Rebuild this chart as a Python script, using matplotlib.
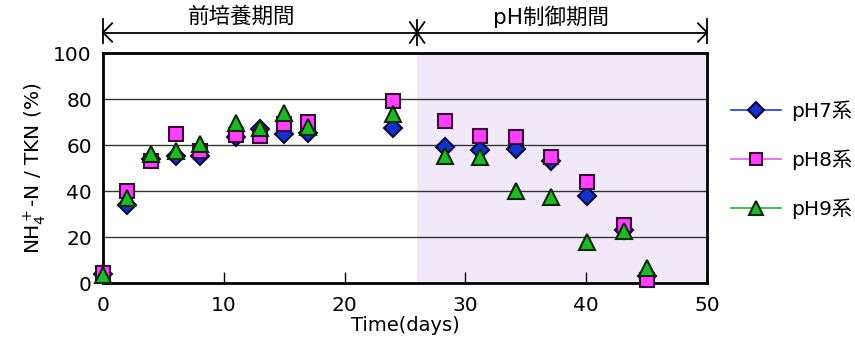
import matplotlib
matplotlib.use("Agg")
import matplotlib.pyplot as plt
import matplotlib.transforms as mtransforms

plt.rcParams['font.family'] = ['DejaVu Sans', 'Noto Sans CJK JP']
plt.rcParams['mathtext.fontset'] = 'dejavusans'

days = [0, 2, 4, 6, 8, 11, 13, 15, 17, 24, 28.3, 31.2, 34.2, 37.1, 40.1, 43.1, 45]
ph7 = [4, 34, 54, 55.5, 55.5, 63.5, 67, 65, 65.5, 67.5, 59, 58, 58.5, 53, 38, 23, 3]
ph8 = [4.5, 40, 53, 65, 57.5, 64.5, 64, 69, 70, 79, 70.5, 64, 63.5, 55, 44, 25.5, 1.2]
ph9 = [3.5, 37, 56, 57.5, 60.5, 69.5, 67.5, 74, 68, 73.5, 55.5, 55, 40, 37.5, 18, 22.5, 6.5]
series_labels = ['pH7系', 'pH8系', 'pH9系']

phase_bounds = [0, 26, 50]
phase_labels = ['前培養期間', 'pH制御期間']

xticks = [0, 10, 20, 30, 40, 50]
yticks = [0, 20, 40, 60, 80, 100]

fig = plt.figure(figsize=(8.55, 3.5), dpi=100)
ax = fig.add_axes([0.1205, 0.191, 0.7065, 0.657])

ax.axvspan(phase_bounds[1], phase_bounds[2], color='#f1e8f8', zorder=0, lw=0)
for y in yticks[1:-1]:
    ax.axhline(y, color='#333333', lw=1.0, zorder=1)

styles = [
    dict(marker='D', mfc='#1432c8', mec='#0a0a3a', color='#2040d0', ms=9.5),
    dict(marker='s', mfc='#ff40ff', mec='#3a0a3a', color='#e060e0', ms=10),
    dict(marker='^', mfc='#20b828', mec='#0a2a0a', color='#30b030', ms=11.5),
]
handles = []
for vals, st, lab in zip([ph7, ph8, ph9], styles, series_labels):
    ax.plot(days, vals, linestyle='none', marker=st['marker'], mfc=st['mfc'],
            mec=st['mec'], mew=1.5, ms=st['ms'], zorder=3, clip_on=False)
    h, = ax.plot([], [], color=st['color'], lw=1.2, marker=st['marker'], mfc=st['mfc'],
                 mec=st['mec'], mew=1.5, ms=st['ms'] * 0.85, label=lab)
    handles.append(h)

ax.set_xlim(0, 50)
ax.set_ylim(0, 100)
ax.set_xticks(xticks)
ax.set_yticks(yticks)
ax.tick_params(axis='x', direction='in', length=8, width=1, labelsize=14.5, pad=9)
ax.tick_params(axis='y', direction='in', length=0, labelsize=14.5, pad=8)
for s in ax.spines.values():
    s.set_linewidth(2)
ax.set_xlabel('Time(days)', fontsize=14, labelpad=1)
ax.set_ylabel(r'NH$_4^+$-N / TKN (%)', fontsize=14.5, labelpad=4)

# phase annotation above plot
tr = mtransforms.blended_transform_factory(ax.transData, ax.transAxes)
yl = 1.09
ax.plot([phase_bounds[0], phase_bounds[2]], [yl, yl], color='black', lw=1.3, transform=tr, clip_on=False)
for xb, d in [(phase_bounds[0], 1), (phase_bounds[2], -1)]:
    ax.plot([xb, xb], [yl - 0.045, yl + 0.06], color='black', lw=1.3, transform=tr, clip_on=False)
    ax.plot([xb + d * 0.75, xb, xb + d * 0.75], [yl + 0.04, yl, yl - 0.04], color='black',
            lw=1.3, transform=tr, clip_on=False)
xm = phase_bounds[1]
ax.plot([xm, xm], [yl - 0.055, yl + 0.055], color='black', lw=1.3, transform=tr, clip_on=False)
ax.plot([xm - 0.6, xm + 0.6], [yl + 0.045, yl - 0.045], color='black', lw=1.3, transform=tr, clip_on=False)
ax.plot([xm - 0.6, xm + 0.6], [yl - 0.045, yl + 0.045], color='black', lw=1.3, transform=tr, clip_on=False)
for (a, b), lab, off in zip([(phase_bounds[0], phase_bounds[1]), (phase_bounds[1], phase_bounds[2])],
                            phase_labels, [-1.5, -0.9]):
    ax.text((a + b) / 2 + off, 1.16, lab, transform=tr, ha='center', va='center', fontsize=15.5)

leg = fig.legend(handles=handles, loc='upper left', bbox_to_anchor=(0.845, 0.735),
                 frameon=False, fontsize=14.5, handlelength=2.5, labelspacing=1.4,
                 handletextpad=0.5, borderaxespad=0)

fig.savefig('out.png', dpi=100, facecolor='white')
